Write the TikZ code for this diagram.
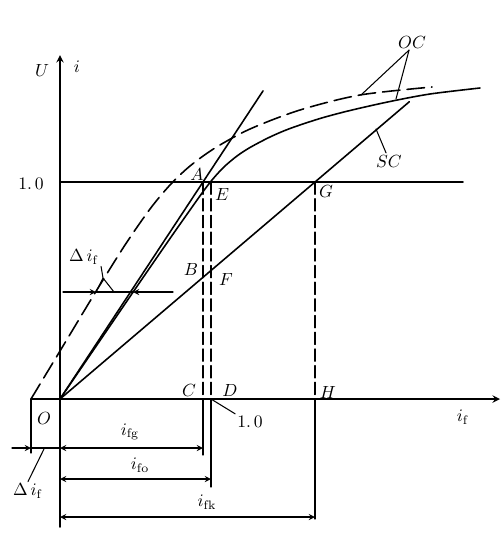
\documentclass[tikz,border=0pt]{standalone}
\usetikzlibrary{calc}
\tikzset{
  curve/.style={line width=0.9pt},
  guide/.style={line width=0.7pt, dash pattern=on 7pt off 2.5pt},
  dim/.style={line width=0.6pt},
  lbl/.style={inner sep=1pt}
}
\begin{document}
\begin{tikzpicture}[>=stealth, x=0.02cm, y=-0.02cm, line join=round, line cap=round]
  \useasboundingbox (0,0) rectangle (502,559);
  % axes
  \coordinate (O) at (60,399);
  \coordinate (Os) at (31,399);
  \coordinate (Xe) at (500,399);
  \coordinate (Ye) at (60,55);
  \coordinate (Yb) at (60,527);
  \draw[curve,->] (Os) -- (Xe);
  \draw[curve,->] (Yb) -- (Ye);
  \node[lbl] (lU) at (42,70) {$U$};
  \node[lbl] (li) at (77,67) {$i$};
  \node[lbl] (lif) at (463,417) {$i_{\mathrm f}$};
  \node[lbl] (lO) at (44,418) {$O$};
  % U=1.0
  \coordinate (U1) at (60,182);
  \coordinate (U1e) at (463,182);
  \draw[curve] (U1) -- (U1e);
  \node[lbl] (l10) at (31,184) {1.\,0};
  \coordinate (A) at (203,182);
  \coordinate (E) at (211,182);
  \coordinate (G) at (315,182);
  \coordinate (C) at (203,399);
  \coordinate (D) at (211,399);
  \coordinate (H) at (315,399);
  \coordinate (B) at (203,277);
  \coordinate (F) at (211,270);
  % air-gap line and SC
  \draw[curve] (O) -- ($(O)!1.42!(A)$);
  \draw[curve] (O) -- ($(O)!1.37!(G)$);
  % OC curves
  \draw[curve] plot[smooth, tension=0.5] coordinates {(60,399) (100,340.5) (140,282) (170,238.5) (190,210) (205,189) (215,176.5) (225,166) (237,156) (250,147.5) (270,137) (290,128.5) (320,118.5) (350,110.5) (390,101.5) (430,94) (480,88)};
  \draw[curve, dash pattern=on 10pt off 4pt] plot[smooth, tension=0.5] coordinates {(31,399) (60,351) (95,293) (125,245) (150,209) (170,185) (190,166) (215,148) (250,129) (300,110) (360,95) (432,87)};
  \node[lbl] (lOC) at (412,42) {$OC$};
  \coordinate (oc1) at (361,95);
  \coordinate (oc2) at (396,99);
  \draw[dim] (lOC.250) -- (oc1);
  \draw[dim] (lOC.250) -- (oc2);
  \node[lbl] (lSC) at (389,161) {$SC$};
  \coordinate (sc1) at (376,129);
  \draw[dim] (lSC.110) -- (sc1);
  % point labels
  \node[lbl] (lA) at (197,174) {$A$};
  \node[lbl] (lE) at (222,194) {$E$};
  \node[lbl] (lG) at (326,191) {$G$};
  \node[lbl] (lB) at (191,269) {$B$};
  \node[lbl] (lF) at (226,279) {$F$};
  \node[lbl] (lC) at (189,390) {$C$};
  \node[lbl] (lD) at (230,390) {$D$};
  \node[lbl] (lH) at (328,392) {$H$};
  % projections
  \draw[guide] (A) -- (C);
  \draw[guide] (E) -- (D);
  \draw[guide] (G) -- (H);
  \coordinate (fg) at (203,448);
  \coordinate (fo) at (211,479);
  \coordinate (fk) at (315,517);
  \coordinate (df) at (31,448);
  \draw[dim] (C) -- (203,455);
  \draw[dim] (D) -- (211,487);
  \draw[dim] (H) -- (315,519);
  \draw[dim] (Os) -- (31,453);
  % dimensions
  \draw[dim,->] (12,448) -- (df);
  \draw[dim] (df) -- (O |- fg);
  \draw[dim,<->] (O |- fg) -- (fg);
  \draw[dim,<->] (O |- fo) -- (fo);
  \draw[dim,<->] (O |- fk) -- (fk);
  \node[lbl] (lfg) at (130,432) {$i_{\mathrm{fg}}$};
  \node[lbl] (lfo) at (140,465) {$i_{\mathrm{fo}}$};
  \node[lbl] (lfk) at (207,502) {$i_{\mathrm{fk}}$};
  \node[lbl] (ldf) at (28,491) {$\Delta\, i_{\mathrm f}$};
  \draw[dim] (ldf.north) -- (44,449);
  \node[lbl] (l10b) at (250,422) {1.\,0};
  \draw[dim] (D) -- (l10b.north west);
  % shift between the OC curves
  \coordinate (m1) at (96,292);
  \coordinate (m2) at (133,292);
  \coordinate (ap) at (103,278);
  \draw[dim,->] (63,292) -- (m1);
  \draw[dim,->] (173,292) -- (m2);
  \draw[dim] (m1) -- (m2);
  \node[lbl] (ldi) at (84,257) {$\Delta\, i_{\mathrm f}$};
  \draw[dim] (ldi.south east) .. controls (101,266) .. (ap);
  \draw[dim] (m1) -- (ap) -- (114,292);
\end{tikzpicture}
\end{document}
